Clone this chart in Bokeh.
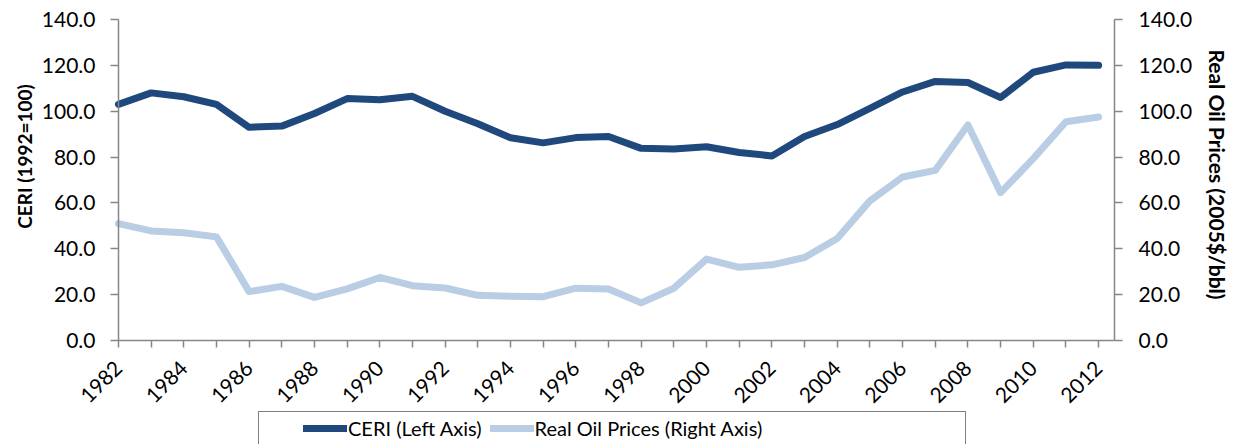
import math
from bokeh.plotting import figure
from bokeh.models import (Range1d, FixedTicker, NumeralTickFormatter,
                          Legend, LegendItem, Label, LinearAxis)
from bokeh.embed import file_html
from bokeh.resources import INLINE

years = list(range(1982, 2013))
ceri = [103.0, 108.0, 106.3, 103.0, 93.0, 93.5, 99.0, 105.5, 105.0, 106.5,
        100.0, 94.5, 88.4, 86.2, 88.5, 89.0, 83.8, 83.5, 84.5, 82.0,
        80.5, 89.0, 94.2, 101.2, 108.4, 113.0, 112.5, 106.0, 117.0, 120.2, 120.0]
oil = [51.0, 47.8, 47.0, 45.2, 21.3, 23.6, 18.8, 22.5, 27.5, 23.9,
       22.9, 19.7, 19.3, 19.1, 22.8, 22.5, 16.4, 22.8, 35.5, 31.9,
       33.0, 36.2, 44.5, 60.9, 71.3, 74.2, 94.0, 64.5, 79.3, 95.4, 97.5]
y_ticks = [0, 20, 40, 60, 80, 100, 120, 140]
x_labels = {y: (str(y) if y % 2 == 0 else "") for y in years}

FONT = "Lato"
AXIS_GREY = "#868686"
DARK = "#1F497D"
LIGHT = "#B9CDE5"

# The frame covers the whole canvas; axes are pinned inside it so nothing is clipped.
X_LO, X_HI = 1978.39, 2016.19      # canvas edges in data units
X_AXIS_END = 2012.49               # where the right axis sits
Y_LO, Y_HI = -45.36, 148.29

p = figure(width=1235, height=444, x_range=Range1d(X_LO, X_HI), y_range=Range1d(Y_LO, Y_HI),
           output_backend="svg", toolbar_location=None,
           min_border_left=0, min_border_right=0, min_border_top=0, min_border_bottom=0)
p.outline_line_color = None
p.xgrid.visible = False
p.ygrid.visible = False
p.extra_y_ranges = {"oil": Range1d(Y_LO, Y_HI)}

r1 = p.line(years, ceri, line_color=DARK, line_width=7, line_cap="round", line_join="round")
r2 = p.line(years, oil, y_range_name="oil", line_color=LIGHT, line_width=7,
            line_cap="round", line_join="round")
rbox = p.line(years, ceri, line_alpha=0)


def style_axis(ax):
    ax.axis_line_color = AXIS_GREY
    ax.axis_line_width = 1.5
    ax.major_tick_line_color = AXIS_GREY
    ax.major_tick_line_width = 1.5
    ax.major_tick_in = 0
    ax.major_tick_out = 8
    ax.minor_tick_line_color = None
    ax.major_label_text_font = FONT
    ax.major_label_text_font_size = "21px"
    ax.major_label_text_color = "black"


# x axis, pinned at y = 0
xa = p.xaxis[0]
style_axis(xa)
xa.fixed_location = 0
xa.bounds = (1982, X_AXIS_END)
xa.ticker = FixedTicker(ticks=years, minor_ticks=[])
xa.major_label_overrides = x_labels
xa.major_label_orientation = math.pi / 4
xa.major_label_standoff = 17
xa.major_tick_out = 7

# left axis, pinned at 1982
ya = p.yaxis[0]
style_axis(ya)
ya.fixed_location = 1982
ya.bounds = (0, 140)
ya.ticker = FixedTicker(ticks=y_ticks, minor_ticks=[])
ya.formatter = NumeralTickFormatter(format="0.0")
ya.major_label_standoff = 15

# right axis, pinned at the end of the category span
yr = LinearAxis(y_range_name="oil")
style_axis(yr)
yr.fixed_location = X_AXIS_END
yr.bounds = (0, 140)
yr.ticker = FixedTicker(ticks=y_ticks, minor_ticks=[])
yr.formatter = NumeralTickFormatter(format="0.0")
yr.major_label_standoff = 16
p.add_layout(yr, "right")

# axis titles
p.add_layout(Label(x=1979.12, y=80.25, text="CERI (1992=100)", angle=math.pi / 2,
                   text_align="center", text_baseline="middle", text_font=FONT,
                   text_font_style="bold", text_font_size="19px", text_color="black"))
p.add_layout(Label(x=2015.64, y=72.4, text="Real Oil Prices (2005$/bbl)", angle=-math.pi / 2,
                   text_align="center", text_baseline="middle", text_font=FONT,
                   text_font_style="bold", text_font_size="21px", text_color="black"))

# legend frame (box only)
box = Legend(items=[LegendItem(label="", renderers=[rbox])], location=(258, -5),
             orientation="horizontal", glyph_width=690, glyph_height=20, padding=8,
             margin=0, label_width=0, label_standoff=0,
             border_line_color="black", border_line_width=1.5,
             background_fill_color="white", background_fill_alpha=1)
p.add_layout(box, "center")

# legend items
leg = Legend(items=[LegendItem(label="CERI (Left Axis)", renderers=[r1]),
                    LegendItem(label="Real Oil Prices (Right Axis)", renderers=[r2])],
             location=(303, 4), orientation="horizontal", glyph_width=44, glyph_height=20,
             padding=0, margin=0, spacing=8, label_standoff=1,
             label_text_font=FONT, label_text_font_size="20px", label_text_color="black",
             border_line_color=None, background_fill_alpha=0)
p.add_layout(leg, "center")

open("out.html", "w").write(file_html(p, INLINE))
